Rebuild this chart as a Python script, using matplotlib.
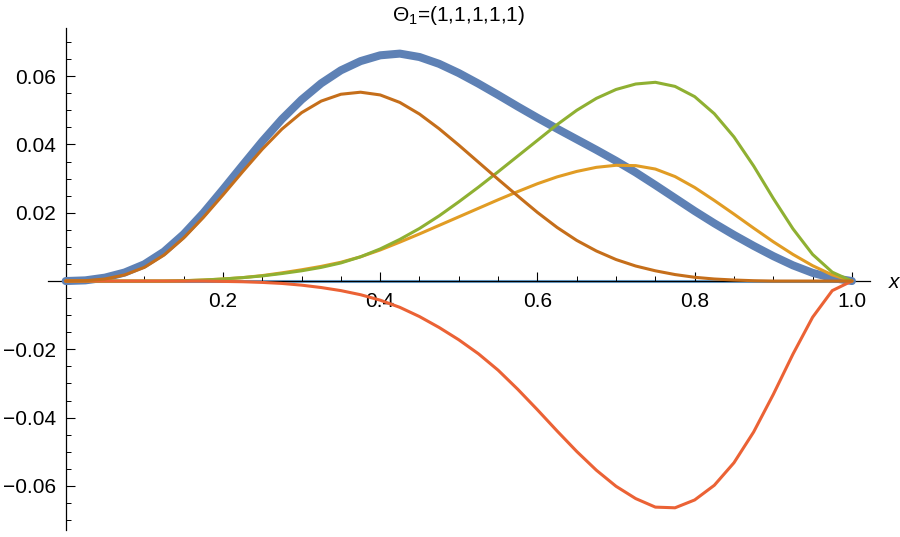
import matplotlib
matplotlib.use("Agg")
import matplotlib.pyplot as plt
from matplotlib.ticker import MultipleLocator, FixedLocator, FuncFormatter
import numpy as np

plt.rcParams['font.family'] = 'Liberation Sans'
plt.rcParams['mathtext.fontset'] = 'custom'
plt.rcParams['mathtext.rm'] = 'Liberation Sans'
plt.rcParams['mathtext.it'] = 'Liberation Sans:italic'

# sample points, step 0.025 on [0, 1]
xs = np.linspace(0, 1, 41)

total = [0, 0.0002, 0.0010, 0.0025, 0.0049, 0.0086, 0.0137, 0.0199, 0.0268, 0.0339,
         0.0409, 0.0474, 0.0531, 0.0579, 0.0617, 0.0644, 0.0661, 0.0666, 0.0656, 0.0636,
         0.0609, 0.0578, 0.0545, 0.0511, 0.0478, 0.0446, 0.0415, 0.0384, 0.0352, 0.0318,
         0.0281, 0.0243, 0.0205, 0.0169, 0.0135, 0.0103, 0.0073, 0.0046, 0.0024, 0.0009, 0]

brown = [0, 0.0001, 0.0006, 0.0018, 0.0040, 0.0076, 0.0126, 0.0186, 0.0252, 0.0320,
         0.0386, 0.0445, 0.0493, 0.0527, 0.0547, 0.0553, 0.0545, 0.0523, 0.0489, 0.0446,
         0.0398, 0.0348, 0.0298, 0.0249, 0.0201, 0.0157, 0.0119, 0.0088, 0.0063, 0.0044,
         0.0030, 0.0019, 0.0011, 0.0006, 0.0003, 0.0001, 0, 0, 0, 0, 0]

green = [0, 0, 0, 0, 0, 0, 0.0001, 0.0003, 0.0006, 0.0010,
         0.0015, 0.0022, 0.0030, 0.0040, 0.0053, 0.0071, 0.0094, 0.0122, 0.0154, 0.0191,
         0.0232, 0.0275, 0.0320, 0.0366, 0.0412, 0.0458, 0.0500, 0.0535, 0.0561, 0.0577,
         0.0582, 0.0570, 0.0540, 0.0490, 0.0422, 0.0337, 0.0242, 0.0153, 0.0078, 0.0026, 0]

orange = [0, 0, 0, 0, 0, 0, 0.0001, 0.0003, 0.0006, 0.0010,
          0.0016, 0.0024, 0.0033, 0.0043, 0.0055, 0.0071, 0.0091, 0.0114, 0.0138, 0.0163,
          0.0188, 0.0213, 0.0238, 0.0262, 0.0285, 0.0305, 0.0321, 0.0333, 0.0339, 0.0338,
          0.0328, 0.0306, 0.0274, 0.0236, 0.0196, 0.0155, 0.0115, 0.0078, 0.0045, 0.0018, 0]

red = [0, 0, 0, 0, 0, 0, 0, 0, -0.0001, -0.0002,
       -0.0004, -0.0007, -0.0012, -0.0019, -0.0028, -0.0040, -0.0056, -0.0077, -0.0104, -0.0136,
       -0.0172, -0.0213, -0.0261, -0.0317, -0.0377, -0.0439, -0.0499, -0.0554, -0.0601, -0.0637,
       -0.0662, -0.0664, -0.0641, -0.0598, -0.0532, -0.0442, -0.0332, -0.0214, -0.0106, -0.0028, 0]

zero = [0] * 41

title = r"Θ$_1$=(1,1,1,1,1)"
xticks_major = [0.2, 0.4, 0.6, 0.8, 1.0]
yticks_major = [-0.06, -0.04, -0.02, 0.02, 0.04, 0.06]

fig = plt.figure(figsize=(9, 5.37), dpi=100)
ax = fig.add_axes([48 / 900, 1 - 530 / 537, (870 - 48) / 900, (530 - 28) / 537])

ax.plot(xs, zero, color="#6FA8D6", lw=2.2, zorder=1.5, solid_capstyle="butt")
ax.plot(xs, total, color="#5E81B5", lw=5.8, solid_capstyle="round", zorder=3)
ax.plot(xs, orange, color="#E19C24", lw=2.2, solid_capstyle="round", zorder=3)
ax.plot(xs, green, color="#8FB032", lw=2.2, solid_capstyle="round", zorder=3)
ax.plot(xs, red, color="#EB6235", lw=2.2, solid_capstyle="round", zorder=3)
ax.plot(xs, brown, color="#C56E1A", lw=2.2, solid_capstyle="round", zorder=3)

ax.set_xlim(-0.0225, 1.023)
ax.set_ylim(-0.0729, 0.0741)

for s in ["top", "right"]:
    ax.spines[s].set_visible(False)
ax.spines["left"].set_position(("data", 0))
ax.spines["bottom"].set_position(("data", 0))
for s in ["left", "bottom"]:
    ax.spines[s].set_linewidth(0.9)
    ax.spines[s].set_zorder(2)

ax.xaxis.set_major_locator(FixedLocator(xticks_major))
ax.xaxis.set_minor_locator(MultipleLocator(0.05))
ax.yaxis.set_major_locator(FixedLocator(yticks_major))
ax.yaxis.set_minor_locator(MultipleLocator(0.005))
ax.xaxis.set_major_formatter(FuncFormatter(lambda v, p: "%.1f" % v))
ax.yaxis.set_major_formatter(FuncFormatter(lambda v, p: ("%.2f" % v).replace("-", "\u2212")))

ax.tick_params(which="major", direction="in", length=6.5, width=0.8, labelsize=15)
ax.tick_params(which="minor", direction="in", length=3.8, width=0.7)
ax.tick_params(axis="x", which="major", pad=8)
ax.tick_params(axis="y", which="major", pad=7)

ax.set_title(title, fontsize=15, pad=5)
fig.text(894 / 900, 1 - 283 / 537, "x", fontsize=15, style="italic", ha="center", va="center")

fig.savefig("out.png", dpi=100)
